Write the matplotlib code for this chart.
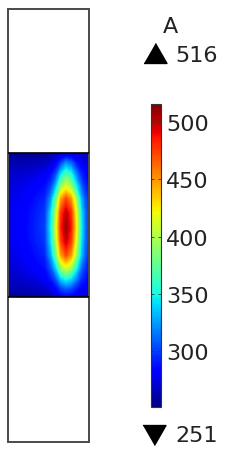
import numpy as np
import matplotlib
matplotlib.use("Agg")
import matplotlib.pyplot as plt
from matplotlib.patches import Rectangle
from matplotlib.lines import Line2D

# sample positions across the middle block (image pixels of the original)
x_px = [8, 28, 45, 51, 56, 61, 66, 71, 76, 81, 85, 89]
y_px = [154, 164, 176, 188, 200, 214, 228, 242, 256, 268, 280, 290, 298]

# field values (rows top -> bottom, cols left -> right)
field = np.array([
    [256, 255, 256, 258, 260, 264, 268, 268, 266, 266, 265, 264],
    [262, 263, 266, 271, 280, 300, 320, 310, 290, 280, 274, 272],
    [268, 272, 279, 287, 305, 345, 370, 355, 320, 295, 285, 280],
    [272, 278, 287, 302, 335, 390, 415, 395, 350, 312, 294, 288],
    [274, 282, 294, 322, 375, 445, 470, 450, 395, 332, 305, 295],
    [275, 285, 298, 342, 400, 475, 500, 478, 418, 346, 312, 298],
    [275, 286, 300, 347, 410, 482, 508, 485, 425, 350, 314, 299],
    [275, 285, 298, 342, 400, 472, 498, 475, 415, 346, 312, 298],
    [273, 282, 293, 327, 378, 445, 470, 448, 395, 335, 307, 295],
    [270, 278, 287, 307, 340, 395, 415, 398, 355, 315, 296, 290],
    [266, 271, 279, 289, 305, 335, 350, 340, 318, 296, 288, 283],
    [262, 264, 268, 274, 282, 298, 305, 300, 290, 282, 277, 275],
    [258, 259, 261, 264, 268, 278, 282, 280, 274, 270, 268, 267],
])
vmin, vmax = 251, 516
cbar_ticks = [300, 350, 400, 450, 500]
quantity = "A"

# geometry: the three stacked blocks, outer box 81 x 433 px
dom_x0, dom_x1 = 8, 89
dom_y0, dom_y1 = 10, 443
blk_top, blk_bottom = 154, 298

W, H = 240, 456
fig = plt.figure(figsize=(W / 100, H / 100), dpi=100)

ax = fig.add_axes([dom_x0 / W, (H - dom_y1) / H, (dom_x1 - dom_x0) / W, (dom_y1 - dom_y0) / H])
ax.set_xlim(dom_x0, dom_x1)
ax.set_ylim(dom_y1, dom_y0)
ax.axis("off")

levels = np.linspace(vmin, vmax, 200)
cs = ax.contourf(x_px, y_px, field, levels=levels, cmap="jet", vmin=vmin, vmax=vmax,
                 antialiased=False)

# outline of the geometry
ax.add_patch(Rectangle((dom_x0, dom_y0), dom_x1 - dom_x0, dom_y1 - dom_y0, fill=False,
                       edgecolor="#4a4a4a", lw=1.4, clip_on=False))
ax.plot([dom_x0, dom_x1], [blk_top, blk_top], color="black", lw=1.2)
ax.plot([dom_x0, dom_x1], [blk_bottom, blk_bottom], color="black", lw=1.2)

# colorbar
sm = plt.cm.ScalarMappable(cmap="jet", norm=plt.Normalize(vmin, vmax))
cax = fig.add_axes([151 / W, (H - 408) / H, 10 / W, 303 / H])
cb = fig.colorbar(sm, cax=cax, ticks=cbar_ticks)
cb.outline.set_linewidth(0.8)
cb.outline.set_edgecolor("#333333")
cax.tick_params(direction="in", length=2, width=0.6, labelsize=16, pad=3.5,
                colors="#333333", labelcolor="#222222", left=True, right=True)

# title and min/max markers
up = [(-1, -0.87), (1, -0.87), (0, 0.87)]
down = [(-1, 0.87), (1, 0.87), (0, -0.87)]
fig.add_artist(Line2D([154.5 / W], [1 - 53.5 / H], marker=up, markersize=16.5, color="black",
                      linestyle="none", transform=fig.transFigure))
fig.add_artist(Line2D([154 / W], [1 - 435.5 / H], marker=down, markersize=16.5, color="black",
                      linestyle="none", transform=fig.transFigure))
fig.text(170.5 / W, 1 - 27 / H, quantity, ha="center", va="center", fontsize=16, color="#222222")
fig.text(175 / W, 1 - 56 / H, str(vmax), ha="left", va="center", fontsize=16, color="#222222")
fig.text(175.5 / W, 1 - 436 / H, str(vmin), ha="left", va="center", fontsize=16, color="#222222")

fig.savefig("out.png", dpi=100)
